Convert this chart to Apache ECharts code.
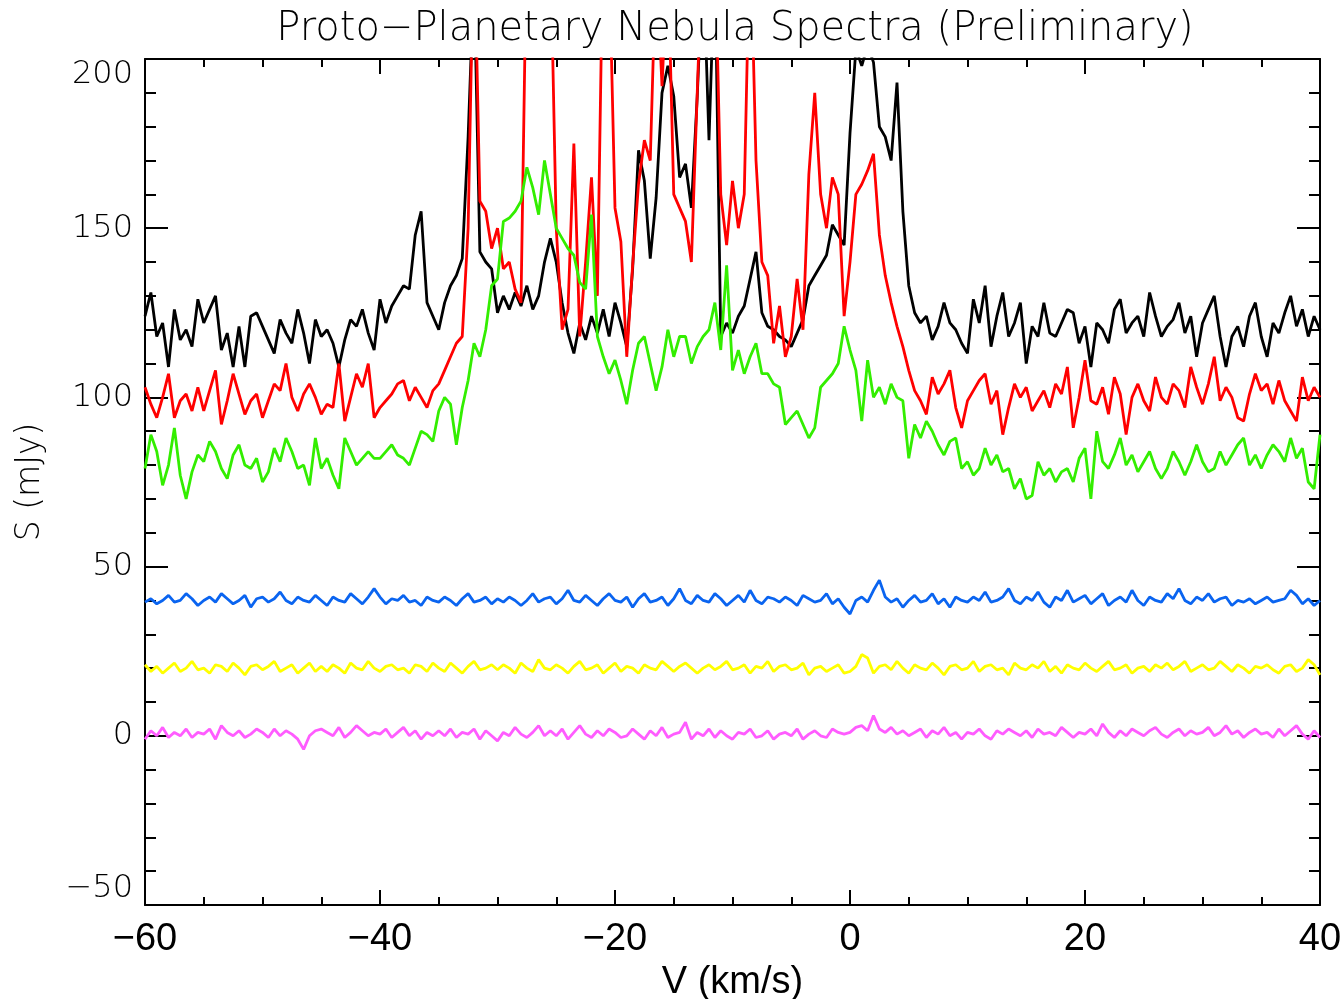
<!DOCTYPE html>
<html>
<head>
<meta charset="utf-8">
<title>Proto-Planetary Nebula Spectra</title>
<script src="https://cdn.jsdelivr.net/npm/echarts@6/dist/echarts.min.js"></script>
<style>
  html, body { margin: 0; padding: 0; background: #fff; overflow: hidden; }
  #spectraChart { width: 1342px; height: 999px; }
</style>
</head>
<body>
<div id="spectraChart"></div>
<script>
// velocity channels: -60 .. 40 km/s, 0.5 km/s apart
const V_START = -60
const V_STEP = 0.5

const xTicks = [-60, -40, -20, 0, 20, 40]
const yTicks = [-50, 0, 50, 100, 150, 200]

// flux density (mJy), one value per channel
const blackFlux = [
  124, 131, 118, 122, 109, 126, 117, 120, 115, 129,
  122, 126, 130, 114, 119, 109, 121, 109, 124, 125,
  121, 117, 113, 123, 119, 116, 126, 119, 110, 123,
  118, 120, 116, 109, 117, 123, 121, 126, 119, 114,
  129, 122, 127, 130, 133, 132, 148, 155, 128, 124,
  120, 128, 133, 136, 141, 177, 225, 143, 140, 138,
  125, 130, 126, 131, 127, 133, 126, 130, 140, 147,
  140, 128, 119, 113, 122, 117, 124, 119, 126, 118,
  128, 122, 115, 138, 173, 164, 141, 159, 190, 198,
  189, 165, 169, 156, 189, 230, 176, 230, 118, 122,
  119, 124, 127, 135, 143, 125, 121, 120, 118, 117,
  115, 119, 123, 133, 136, 139, 142, 151, 148, 145,
  178, 203, 198, 204, 199, 180, 177, 170, 193, 155,
  133, 125, 122, 124, 117, 121, 128, 122, 120, 116,
  113, 129, 122, 133, 115, 124, 131, 118, 122, 128,
  110, 121, 118, 128, 119, 118, 122, 126, 125, 116,
  121, 109, 122, 120, 116, 126, 129, 119, 122, 124,
  118, 131, 124, 118, 121, 123, 128, 119, 124, 112,
  122, 126, 130, 118, 109, 118, 121, 115, 124, 128,
  118, 112, 122, 119, 125, 130, 121, 126, 118, 124,
  120
]
const redFlux = [
  103, 98, 94, 100, 107, 94, 99, 101, 96, 103,
  96, 102, 108, 92, 99, 107, 101, 95, 99, 101,
  94, 99, 104, 102, 110, 100, 96, 101, 104, 100,
  95, 98, 97, 110, 93, 100, 107, 103, 110, 94,
  97, 99, 101, 104, 105, 99, 103, 100, 97, 102,
  104, 108, 112, 116, 118, 150, 240, 158, 155, 144,
  150, 138, 140, 132, 128, 240, 260, 260, 250, 235,
  150, 120, 126, 175, 118, 140, 165, 130, 240, 230,
  156, 146, 112, 139, 163, 176, 170, 230, 192, 230,
  160, 156, 152, 140, 190, 240, 240, 235, 160, 145,
  164, 150, 160, 240, 170, 140, 136, 116, 127, 112,
  118, 135, 120, 166, 190, 160, 150, 165, 160, 124,
  140, 160, 163, 167, 172, 148, 136, 128, 121, 115,
  108, 102, 99, 95, 106, 101, 104, 108, 97, 91,
  99, 102, 105, 107, 98, 102, 89, 97, 104, 100,
  103, 96, 99, 102, 97, 104, 101, 109, 91, 100,
  111, 99, 98, 103, 95, 106, 101, 89, 100, 104,
  99, 96, 106, 100, 98, 104, 102, 97, 109, 103,
  98, 104, 112, 99, 103, 100, 94, 93, 101, 107,
  102, 104, 98, 105, 99, 96, 93, 106, 99, 103,
  100
]
const greenFlux = [
  79, 89, 84, 74, 80, 91, 77, 70, 78, 83,
  81, 87, 84, 79, 76, 83, 86, 80, 79, 82,
  75, 78, 85, 81, 88, 84, 79, 80, 74, 88,
  79, 82, 77, 73, 88, 84, 80, 82, 84, 82,
  82, 84, 86, 83, 82, 80, 85, 90, 89, 87,
  96, 100, 98, 86, 97, 105, 116, 112, 120, 133,
  135, 152, 153, 155, 158, 168, 162, 154, 170, 160,
  150, 147, 144, 142, 134, 132, 154, 118, 112, 107,
  111, 105, 98, 108, 116, 118, 110, 102, 109, 120,
  112, 118, 118, 110, 115, 118, 120, 128, 114, 139,
  108, 114, 107, 112, 116, 107, 107, 104, 103, 92,
  94, 96, 92, 88, 91, 103, 105, 107, 110, 121,
  114, 108, 93, 111, 100, 103, 98, 104, 100, 99,
  82, 92, 88, 93, 90, 86, 83, 87, 88, 79,
  81, 77, 79, 85, 80, 83, 78, 79, 73, 76,
  70, 71, 81, 77, 79, 75, 78, 79, 75, 82,
  85, 70, 90, 81, 79, 83, 88, 80, 83, 78,
  81, 84, 79, 76, 79, 84, 81, 77, 81, 86,
  81, 78, 79, 84, 80, 83, 86, 88, 80, 83,
  79, 83, 86, 84, 81, 88, 82, 85, 75, 73,
  89
]
const blueFlux = [
  39.5, 40.5, 39, 40, 41.5, 39.5, 40, 42, 40.5, 38.5,
  40, 41, 39.5, 42, 40.5, 39, 40, 41.5, 38, 40.5,
  41, 39.5, 40.5, 42.5, 40, 39, 41, 40, 39.5, 41.5,
  40, 38.5, 41, 40, 39.5, 42, 40.5, 39, 41, 43.5,
  41, 39, 40.5, 40, 41.5, 39.5, 40, 38.5, 41, 40,
  39.5, 41, 40, 38.5, 40.5, 42, 39.5, 40, 41, 39,
  40.5, 39.5, 41, 40, 38.5, 40, 42, 39.5, 40.5, 41,
  39, 40.5, 43, 40, 39.5, 41.5, 40, 38.5, 40.5, 42,
  40, 39.5, 41, 38, 40.5, 42, 39.5, 40, 41, 38.5,
  40.5, 43.5, 40, 39, 41.5, 40, 39.5, 42, 40.5, 38.5,
  40, 41.5, 39.5, 43, 40, 39, 41, 40.5, 39.5, 41,
  40, 38.5, 41.5, 40.5, 39.5, 40, 42, 39, 40.5, 38,
  36, 40, 41, 39.5, 43, 46, 41, 39.5, 40.5, 38,
  40, 41.5, 39.5, 40, 42, 39, 40.5, 38, 41, 40,
  39.5, 41, 40, 42.5, 39.5, 40, 41, 43.5, 40, 39,
  41, 40, 42.5, 39.5, 38, 41, 40, 43, 39.5, 40.5,
  41.5, 39, 40.5, 42, 38.5, 40, 41, 39.5, 43, 40,
  38.5, 41, 40, 39.5, 42, 40.5, 43.5, 40, 39, 41,
  40, 42, 39.5, 40.5, 41, 38.5, 40, 39.5, 40.5, 39,
  40, 41, 39.5, 40, 40.5, 43, 41.5, 39, 40.5, 38.5,
  40
]
const yellowFlux = [
  21, 19, 20.5, 18.5, 20, 21.5, 19, 20, 22, 19.5,
  20, 18.5, 21, 20.5, 19, 21.5, 20, 18, 20.5, 21,
  19.5, 20.5, 22, 19, 20, 21, 18.5, 20, 21.5, 19,
  20.5, 19, 21, 20, 18.5, 21.5, 20, 19.5, 22, 20,
  19, 20.5, 21, 19.5, 20, 18.5, 21, 20.5, 19, 21.5,
  20, 19, 21.5, 20, 18.5, 20.5, 22, 19.5, 20, 21,
  19.5, 21, 20, 18.5, 21.5, 20, 19, 22.5, 20, 19.5,
  21, 20, 18.5, 20.5, 22, 19.5, 20, 21, 18.5, 20,
  21.5, 19, 20.5, 20, 18.5, 21, 20, 19.5, 22, 20.5,
  19, 20.5, 21.5, 20, 18.5, 20, 21, 19.5, 20.5, 22,
  19.5, 20, 21, 18.5, 20.5, 20, 22, 19, 20.5, 21,
  19.5, 20, 21.5, 18, 20, 20.5, 19, 20, 21, 18.5,
  19, 20.5, 24, 23, 18.5, 20.5, 21, 19.5, 22, 20,
  18.5, 21, 20, 19.5, 21.5, 20, 18, 20.5, 21, 19.5,
  20, 22, 19, 20.5, 21, 19.5, 20, 18, 21.5, 20,
  19.5, 21, 20, 22, 19, 20.5, 18.5, 21, 20, 19.5,
  21.5, 20, 19, 20.5, 22, 19.5, 20, 21, 18.5, 20,
  20.5, 19, 21, 20, 21.5, 19.5, 20.5, 22, 19, 20,
  21, 19.5, 20, 22, 20.5, 19, 21, 20, 18.5, 20.5,
  20, 21, 19.5, 18.5, 20.5, 21, 19, 20, 22.5, 21,
  18
]
const magentaFlux = [
  -1, 1.5, 0, 2.5, -0.5, 1, 0, 2, -0.5, 1,
  0.5, 2, -1, 3, 1, 0, 1.5, -0.5, 0.5, 2,
  1, -0.5, 2, 0, 1.5, 0.5, -1, -4, 0, 1.5,
  2, 1, 0, 2.5, -0.5, 1, 3, 1.5, 0, 1,
  0.5, 2, -0.5, 1, 2.5, 0, 1.5, -1, 1, 0,
  1.5, 0, 2, -0.5, 1, 0.5, 2, -1, 1.5, 0,
  -1.5, 1, 0, 2.5, 0.5, -0.5, 1, 3, 0, 1.5,
  0, 2, -1, 1, 3, 0.5, -0.5, 1.5, 0, 2,
  1, -0.5, 0, 2, 0.5, -1, 1.5, 0, 2.5, -0.5,
  0.5, 1, 4, -1, 1, 0, 2, -0.5, 1.5, 0,
  -1, 1, 0.5, 2, -0.5, 0, 1.5, -1, 0.5, 1,
  0, 2, -1, 0.5, 1.5, 0, -0.5, 2, 1, 0.5,
  1, 2.5, 3, 1.5, 6, 2, 1, 2.5, 0.5, 1.5,
  0, 1, 2, -0.5, 1.5, 0.5, 2.5, 0, 1, -1,
  1, 0.5, 2, 0, -1, 1.5, 0.5, 2, 1, 0,
  1.5, -0.5, 2, 0.5, 1, 0, 2.5, 1, -0.5, 1,
  0.5, 2, 0, 3.5, 1, -0.5, 1.5, 0, 2, 1,
  0, 1.5, 2.5, 0.5, -0.5, 1, 2, 0, 1.5, 0.5,
  1, 2.5, 0, 1, 3, 0.5, 1.5, -0.5, 1, 2,
  0.5, 1, -0.5, 2, 0, 1.5, 3, 0.5, -1, 1.5,
  -0.5
]

const spectra = [
  { name: 'black', color: '#000000', flux: blackFlux },
  { name: 'red', color: '#ff0000', flux: redFlux },
  { name: 'green', color: '#33ee00', flux: greenFlux },
  { name: 'blue', color: '#0a64f0', flux: blueFlux },
  { name: 'yellow', color: '#ffff00', flux: yellowFlux },
  { name: 'magenta', color: '#ff5cff', flux: magentaFlux },
]

const minus = (v) => String(v).replace('-', '\u2212')
const narrowFont = '"Liberation Sans Narrow", "Liberation Sans", Arial, sans-serif'
const wideFont = '"DejaVu Sans", Verdana, sans-serif'

const tickLine = { color: '#000', width: 2 }

const xAxisBase = (pos, showLabel) => ({
  type: 'value',
  position: pos,
  min: xTicks[0],
  max: xTicks[xTicks.length - 1],
  interval: xTicks[1] - xTicks[0],
  axisLine: { show: true, onZero: false, lineStyle: tickLine },
  axisTick: { show: true, inside: true, length: 15, lineStyle: tickLine },
  minorTick: { show: true, splitNumber: 4, length: 8, lineStyle: tickLine },
  splitLine: { show: false },
  axisLabel: {
    show: showLabel,
    margin: 16,
    color: '#000',
    fontFamily: narrowFont,
    fontSize: 38,
    formatter: minus,
  },
})

const yAxisBase = (pos, showLabel) => ({
  type: 'value',
  position: pos,
  min: yTicks[0],
  max: yTicks[yTicks.length - 1],
  interval: yTicks[1] - yTicks[0],
  axisLine: { show: true, onZero: false, lineStyle: tickLine },
  axisTick: { show: true, inside: true, length: 23, lineStyle: tickLine },
  minorTick: { show: true, splitNumber: 5, length: 11, lineStyle: tickLine },
  splitLine: { show: false },
  axisLabel: {
    show: showLabel,
    margin: 12,
    color: '#000',
    fontFamily: wideFont,
    fontWeight: 200,
    fontSize: 32,
    verticalAlignMinLabel: 'bottom',
    verticalAlignMaxLabel: 'top',
    formatter: minus,
  },
})

const chart = echarts.init(document.getElementById('spectraChart'), null, { renderer: 'canvas' })

const option = {
  animation: false,
  backgroundColor: '#fff',
  title: {
    text: 'Proto\u2212Planetary Nebula Spectra (Preliminary)',
    left: 730,
    top: 5,
    textAlign: 'center',
    textStyle: {
      fontFamily: wideFont,
      fontWeight: 200,
      fontSize: 40,
      color: '#000',
    },
  },
  grid: {
    left: 145, right: 22, top: 59, bottom: 94,
    containLabel: false,
    outerBoundsMode: 'none',
  },
  xAxis: [
    Object.assign(xAxisBase('bottom', true), {
      name: 'V (km/s)',
      nameLocation: 'middle',
      nameGap: 58,
      nameTextStyle: { fontFamily: narrowFont, fontSize: 38, color: '#000' },
    }),
    xAxisBase('top', false),
  ],
  yAxis: [
    Object.assign(yAxisBase('left', true), {
      name: 'S (mJy)',
      nameLocation: 'middle',
      nameGap: 98,
      nameTextStyle: { fontFamily: wideFont, fontWeight: 200, fontSize: 33, color: '#000' },
    }),
    yAxisBase('right', false),
  ],
  series: spectra.map((s) => ({
    name: s.name,
    type: 'line',
    xAxisIndex: 0,
    yAxisIndex: 0,
    showSymbol: false,
    clip: true,
    lineStyle: { color: s.color, width: 2.8 },
    data: s.flux.map((f, i) => [V_START + i * V_STEP, f]),
  })),
}

chart.setOption(option)
</script>
</body>
</html>
